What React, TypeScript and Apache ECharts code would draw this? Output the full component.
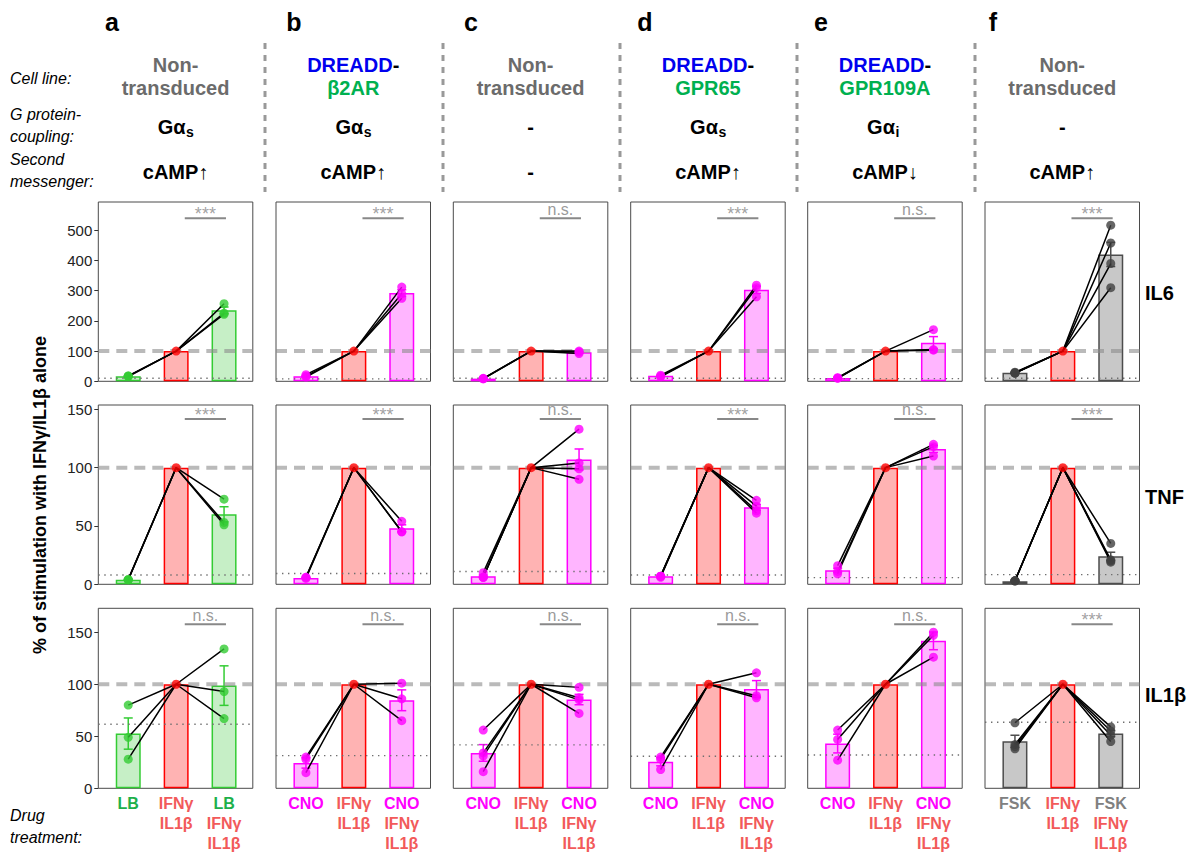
import React, { useEffect, useRef } from "react";
import * as echarts from "echarts";

const FONT = "'Liberation Sans', Arial, Helvetica, sans-serif";

// ---------- header texts ----------
const panelLetters = ["a", "b", "c", "d", "e", "f"];
const cellLineTop = ["Non-", "DREADD", "Non-", "DREADD", "DREADD", "Non-"];
const cellLineBottom = ["transduced", "β2AR", "transduced", "GPR65", "GPR109A", "transduced"];
const gProteinMain = ["Gα", "Gα", "-", "Gα", "Gα", "-"];
const gProteinSub = ["s", "s", "", "s", "i", ""];
const secondMessenger = ["cAMP↑", "cAMP↑", "-", "cAMP↑", "cAMP↓", "cAMP↑"];
const drugAlone = ["LB", "CNO", "CNO", "CNO", "CNO", "FSK"];
const stimulus = ["IFNγ", "IL1β"];
const colGroup = ["green", "magenta", "magenta", "magenta", "magenta", "gray"];

// ---------- axes ----------
const cytokines = ["IL6", "TNF", "IL1β"];
const yMax = [593.7, 153.7, 173];
const yTicks = [
  [0, 100, 200, 300, 400, 500],
  [0, 50, 100, 150],
  [0, 50, 100, 150],
];
const sigLevel = [540, 141.7, 157.7];
const sigSpan = [2.18, 3.04];
const refLevel = 100;

// ---------- IL6 ----------
const il6Means = [[17, 100, 235], [17, 100, 292], [9, 100, 96], [18, 100, 303], [11, 100, 128], [28, 100, 420]];
const il6Sem = [[1, 0, 11], [2, 0, 11], [1, 0, 2], [1, 0, 12], [1, 0, 20], [1, 0, 40]];
const il6Low = [[17, 16, 18], [22, 17, 14], [10, 9, 8], [20, 17, 15], [12, 11, 10], [30, 27, 28, 27]];
const il6High = [[257, 222, 226], [312, 290, 275], [100, 97, 92], [318, 310, 280], [171, 103, 105], [517, 458, 390, 310]];
const il6Dotted = [10, 8, 10, 10, 9, 10];
const il6Sig = ["***", "***", "n.s.", "***", "n.s.", "***"];

// ---------- TNF ----------
const tnfMeans = [[4, 100, 60], [5.5, 100, 48], [7, 100, 107], [7, 100, 66], [12, 100, 116], [2.6, 100, 24]];
const tnfSem = [[0.3, 0, 6.5], [0.3, 0, 3], [1, 0, 9], [0.3, 0, 2.5], [1.8, 0, 3], [0.2, 0, 3.5]];
const tnfLow = [[4, 4, 4], [6, 6, 5], [10, 6, 6, 6], [7, 7, 6, 7], [16, 11, 9], [3, 3, 3, 3]];
const tnfHigh = [[73, 53, 51], [54, 45, 45], [133, 104, 99, 90], [72, 67, 63, 61], [120, 118, 110], [35, 21, 19, 20]];
const tnfDotted = [8, 9.2, 11, 8, 5.7, 8.3];
const tnfSig = ["***", "***", "n.s.", "***", "n.s.", "***"];

// ---------- IL1β ----------
const il1bMeans = [[52.6, 100, 98.7], [24.4, 100, 84.6], [34, 100, 85.3], [25.6, 100, 95.5], [43, 100, 141.7], [45.2, 100, 52.6]];
const il1bSem = [[15, 0, 19], [5, 0, 10], [8, 0, 5], [4, 0, 8], [9, 0, 8.5], [5.8, 0, 3]];
const il1bLow = [[80, 49, 28], [30, 28, 15], [56, 34, 31, 16], [30, 28, 18], [56, 47, 27], [63, 42, 38, 40]];
const il1bHigh = [[134, 93, 67], [101, 86, 65], [97, 87, 85, 72], [111, 89, 87], [150, 147, 126], [59, 55, 51, 45]];
const il1bDotted = [61.5, 31.4, 41.7, 30.8, 32, 63.5];
const il1bSig = ["n.s.", "n.s.", "n.s.", "n.s.", "n.s.", "***"];

const rows = [
  { means: il6Means, sem: il6Sem, low: il6Low, high: il6High, dotted: il6Dotted, sig: il6Sig },
  { means: tnfMeans, sem: tnfSem, low: tnfLow, high: tnfHigh, dotted: tnfDotted, sig: tnfSig },
  { means: il1bMeans, sem: il1bSem, low: il1bLow, high: il1bHigh, dotted: il1bDotted, sig: il1bSig },
];

const palette: any = {
  green: { fill: "#C6EFC6", border: "#33CC33", point: "#33CC33", label: "#1DB04B" },
  magenta: { fill: "#FFB5FF", border: "#FF00FF", point: "#FF00FF", label: "#FF00FF" },
  gray: { fill: "#C8C8C8", border: "#4D4D4D", point: "#404040", label: "#808080" },
  red: { fill: "#FFB3B3", border: "#FF0000", point: "#FF0000", label: "#F25A5A" },
};

// ---------- layout ----------
const panelLeft = [98.3, 276, 453.3, 630.7, 807.7, 985];
const panelTop = [202, 405, 608.3];
const panelHeight = [179.3, 179.3, 180];
const panelWidth = 154.5;
const letterX = [112, 294, 471, 645, 821, 993];
const sepX = [265, 443, 620, 797, 975];

function buildOption() {
  const grid: any[] = [];
  const xAxis: any[] = [];
  const yAxis: any[] = [];
  const series: any[] = [];
  const graphic: any[] = [];

  for (let r = 0; r < 3; r++) {
    for (let c = 0; c < 6; c++) {
      const idx = r * 6 + c;
      const g = palette[colGroup[c]];
      const red = palette.red;
      const row = rows[r];
      const m = row.means[c];
      const s = row.sem[c];
      grid.push({
        left: panelLeft[c],
        top: panelTop[r],
        width: panelWidth,
        height: panelHeight[r],
        show: true,
        borderColor: "#4a4a4a",
        borderWidth: 1,
        backgroundColor: "transparent",
        containLabel: false,
        outerBoundsMode: "none",
      });
      const lab1 = `{g|${drugAlone[c]}}`;
      const lab2 = `{r|${stimulus[0]}}\n{r|${stimulus[1]}}`;
      const lab3 = `{g|${drugAlone[c]}}\n{r|${stimulus[0]}}\n{r|${stimulus[1]}}`;
      const labs = [lab1, lab2, lab3];
      xAxis.push({
        gridIndex: idx,
        type: "value",
        min: 0.375,
        max: 3.6,
        axisLine: { show: false },
        axisTick: { show: false },
        splitLine: { show: false },
        axisLabel:
          r === 2
            ? {
                show: true,
                customValues: [1, 2, 3],
                margin: 5,
                formatter: (v: number) => labs[Math.round(v) - 1] || "",
                rich: {
                  g: { color: g.label, fontSize: 16, fontWeight: "bold", lineHeight: 20, fontFamily: FONT },
                  r: { color: red.label, fontSize: 16, fontWeight: "bold", lineHeight: 20, fontFamily: FONT },
                },
              }
            : { show: false },
      });
      yAxis.push({
        gridIndex: idx,
        type: "value",
        min: 0,
        max: yMax[r],
        axisLine: { show: false },
        splitLine: { show: false },
        axisTick: {
          show: c === 0,
          customValues: yTicks[r],
          length: 4,
          lineStyle: { color: "#333", width: 1 },
        },
        axisLabel: {
          show: c === 0,
          customValues: yTicks[r],
          fontSize: 15,
          color: "#222",
          margin: 6,
          fontFamily: FONT,
        },
      });
      const axes = { xAxisIndex: idx, yAxisIndex: idx };

      // bars
      series.push({
        type: "bar",
        ...axes,
        barWidth: 25,
        z: 1,
        silent: true,
        data: m.map((v: number, i: number) => ({
          value: [i + 1, v],
          itemStyle: {
            color: i === 1 ? red.fill : g.fill,
            borderColor: i === 1 ? red.border : g.border,
            borderWidth: 1.5,
          },
        })),
      });

      // error bars
      const errData = m
        .map((v: number, i: number) => [i + 1, v - s[i], v + s[i], s[i]])
        .filter((d: number[]) => d[3] > 0);
      series.push({
        type: "custom",
        ...axes,
        z: 2,
        silent: true,
        data: errData,
        encode: { x: 0, y: [1, 2] },
        renderItem: (params: any, api: any) => {
          const x = api.value(0);
          const lo = api.coord([x, api.value(1)]);
          const hi = api.coord([x, api.value(2)]);
          const hw = 4.5;
          const st = { stroke: g.border, lineWidth: 1.5 };
          return {
            type: "group",
            children: [
              { type: "line", shape: { x1: lo[0], y1: lo[1], x2: hi[0], y2: hi[1] }, style: st },
              { type: "line", shape: { x1: lo[0] - hw, y1: lo[1], x2: lo[0] + hw, y2: lo[1] }, style: st },
              { type: "line", shape: { x1: hi[0] - hw, y1: hi[1], x2: hi[0] + hw, y2: hi[1] }, style: st },
            ],
          };
        },
      });

      // reference line at 100 (dashed)
      series.push({
        type: "line",
        ...axes,
        z: 3,
        silent: true,
        symbol: "none",
        data: [[0.375, refLevel], [3.6, refLevel]],
        lineStyle: { color: "rgba(140,140,140,0.6)", width: 4, type: [11, 7] },
      });
      // dotted baseline
      series.push({
        type: "line",
        ...axes,
        z: 3,
        silent: true,
        symbol: "none",
        data: [[0.375, row.dotted[c]], [3.6, row.dotted[c]]],
        lineStyle: { color: "#6f6f6f", width: 1.4, type: [1.4, 4.6] },
      });

      // replicate lines
      const low = row.low[c];
      const high = row.high[c];
      for (let k = 0; k < low.length; k++) {
        series.push({
          type: "line",
          ...axes,
          z: 4,
          silent: true,
          symbol: "none",
          data: [[1, low[k]], [2, refLevel], [3, high[k]]],
          lineStyle: { color: "#000", width: 1.5 },
        });
      }

      // points
      const pts: any[] = [];
      low.forEach((v: number) => pts.push({ value: [1, v], itemStyle: { color: g.point } }));
      high.forEach((v: number) => pts.push({ value: [3, v], itemStyle: { color: g.point } }));
      pts.push({ value: [2, refLevel], itemStyle: { color: red.point } });
      series.push({
        type: "scatter",
        ...axes,
        z: 5,
        silent: true,
        symbolSize: 9,
        data: pts,
      });

      // significance
      series.push({
        type: "line",
        ...axes,
        z: 5,
        silent: true,
        symbol: "none",
        data: [[sigSpan[0], sigLevel[r]], [sigSpan[1], sigLevel[r]]],
        lineStyle: { color: "#888", width: 2 },
      });
      const isStar = row.sig[c] === "***";
      series.push({
        type: "scatter",
        ...axes,
        z: 5,
        silent: true,
        symbolSize: 0.1,
        itemStyle: { color: "transparent" },
        data: [[(sigSpan[0] + sigSpan[1]) / 2, sigLevel[r]]],
        label: {
          show: true,
          position: "top",
          distance: isStar ? -5 : 1,
          formatter: row.sig[c],
          color: isStar ? "#8a8a8a" : "#808080",
          fontSize: isStar ? 18 : 16,
          fontFamily: FONT,
        },
      });
    }
  }

  // header graphics
  const txt = (text: string, x: number, y: number, o: any = {}) => ({
    type: "text",
    x,
    y,
    silent: true,
    rotation: o.rotation || 0,
    style: {
      text,
      fill: o.fill || "#000",
      fontSize: o.fontSize || 20,
      fontWeight: o.fontWeight || "bold",
      fontStyle: o.fontStyle || "normal",
      fontFamily: FONT,
      align: o.align || "center",
      textAlign: o.align || "center",
      verticalAlign: "middle",
      textVerticalAlign: "middle",
      rich: o.rich,
    },
  });

  for (let c = 0; c < 6; c++) {
    const cx = panelLeft[c] + panelWidth / 2;
    graphic.push(txt(panelLetters[c], letterX[c], 22, { fontSize: 25 }));
    if (cellLineTop[c] === "DREADD") {
      graphic.push(
        txt(`{b|${cellLineTop[c]}}{k|-}`, cx, 65, {
          rich: {
            b: { fill: "#0000EE", color: "#0000EE", fontSize: 20, fontWeight: "bold", fontFamily: FONT },
            k: { fill: "#000", color: "#000", fontSize: 20, fontWeight: "bold", fontFamily: FONT },
          },
        })
      );
      graphic.push(txt(cellLineBottom[c], cx, 88, { fill: "#00B050" }));
    } else {
      graphic.push(txt(cellLineTop[c], cx, 65, { fill: "#6B6B6B" }));
      graphic.push(txt(cellLineBottom[c], cx, 88, { fill: "#6B6B6B" }));
    }
    if (gProteinSub[c]) {
      graphic.push(txt(gProteinMain[c], cx + 10, 127, { align: "right" }));
      graphic.push(txt(gProteinSub[c], cx + 10.5, 132, { align: "left", fontSize: 14 }));
    } else {
      graphic.push(txt(gProteinMain[c], cx, 127));
    }
    graphic.push(txt(secondMessenger[c], cx, 172));
  }
  sepX.forEach((x) =>
    graphic.push({
      type: "line",
      silent: true,
      shape: { x1: x, y1: 43, x2: x, y2: 192 },
      style: { stroke: "#999", lineWidth: 3, lineDash: [6, 6] },
    })
  );
  const side = { align: "left", fontWeight: "normal", fontStyle: "italic", fontSize: 16 };
  graphic.push(txt("Cell line:", 10, 78, side));
  graphic.push(txt("G protein-", 10, 114, side));
  graphic.push(txt("coupling:", 10, 136, side));
  graphic.push(txt("Second", 10, 159, side));
  graphic.push(txt("messenger:", 10, 181, side));
  graphic.push(txt("Drug", 10, 815, side));
  graphic.push(txt("treatment:", 10, 837, side));

  const rowLabelY = [293, 497, 695];
  cytokines.forEach((n, r) => graphic.push(txt(n, 1145, rowLabelY[r], { align: "left" })));
  graphic.push(
    txt("% of stimulation with IFNγ/IL1β alone", 40, 495, { rotation: Math.PI / 2, fontSize: 18 })
  );

  return {
    animation: false,
    backgroundColor: "#fff",
    textStyle: { fontFamily: FONT },
    grid,
    xAxis,
    yAxis,
    series,
    graphic: { elements: graphic },
  };
}

export default function App() {
  const ref = useRef<HTMLDivElement>(null);
  useEffect(() => {
    document.body.style.margin = "0";
    if (!ref.current) return;
    const chart = echarts.init(ref.current, null, { renderer: "svg" });
    chart.setOption(buildOption() as any);
    return () => chart.dispose();
  }, []);
  return <div ref={ref} style={{ width: 1191, height: 852 }} />;
}
